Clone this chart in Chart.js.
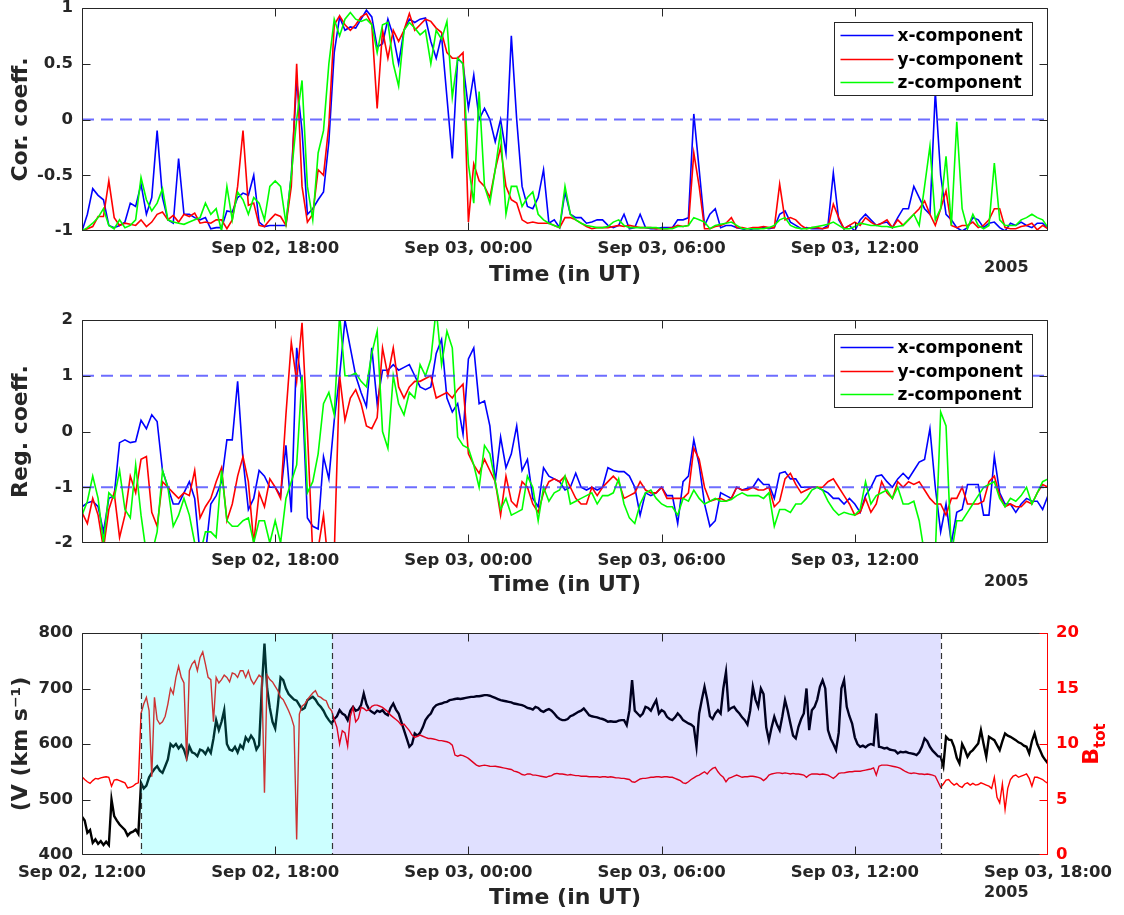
<!DOCTYPE html>
<html><head><meta charset="utf-8">
<script src="https://cdn.jsdelivr.net/npm/chart.js@4"></script>
<style>
html,body{margin:0;padding:0;background:#fff;width:1124px;height:915px;overflow:hidden;position:relative;}
canvas{position:absolute;left:0;}
</style></head><body>
<canvas id="c1" width="1124" height="317" style="top:-12px"></canvas>
<canvas id="c2" width="1124" height="310" style="top:300px"></canvas>
<canvas id="c3" width="1124" height="302" style="top:613px"></canvas>
<script>
// ---------- DATA ----------
const tickHours = [0, 6, 12, 18, 24, 30]; // hours after Sep 02, 12:00 UT
const tickLabels = ['Sep 02, 12:00','Sep 02, 18:00','Sep 03, 00:00','Sep 03, 06:00','Sep 03, 12:00','Sep 03, 18:00'];
const yearLabel = '2005';
const seriesNames = ['x-component','y-component','z-component'];
const coefStepMin = 10;

const corrX = [-1.0,-0.85,-0.62,-0.68,-0.72,-0.95,-0.97,-0.95,-0.92,-0.75,
-0.78,-0.58,-0.85,-0.7,-0.1,-0.7,-0.9,-0.93,-0.35,-0.85,
-0.85,-0.88,-0.9,-0.88,-0.98,-0.97,-0.97,-0.82,-0.83,-0.7,
-0.66,-0.68,-0.5,-0.92,-0.96,-0.95,-0.95,-0.95,-0.95,-0.5,
0.35,-0.1,-0.85,-0.8,-0.72,-0.65,-0.2,0.6,0.92,0.8,
0.83,0.82,0.9,0.98,0.92,0.65,0.68,0.9,0.75,0.5,
0.8,0.9,0.87,0.9,0.91,0.7,0.55,0.75,0.2,-0.35,
0.55,0.5,0.1,0.4,0.0,0.1,0.0,-0.2,0.0,-0.3,
0.75,0.0,-0.6,-0.78,-0.8,-0.7,-0.45,-0.93,-0.9,-0.97,
-0.65,-0.85,-0.88,-0.88,-0.93,-0.92,-0.9,-0.9,-0.95,-0.97,
-0.95,-0.85,-0.98,-0.97,-0.85,-0.97,-0.98,-0.98,-0.97,-0.97,
-0.97,-0.9,-0.9,-0.88,0.05,-0.45,-0.95,-0.85,-0.8,-0.97,
-0.95,-0.95,-0.97,-0.98,-1.0,-0.98,-0.98,-0.97,-0.98,-0.97,
-0.85,-0.82,-0.92,-0.95,-0.98,-0.97,-0.98,-0.98,-0.98,-0.95,
-0.48,-0.9,-0.98,-0.95,-1.0,-0.9,-0.85,-0.9,-0.95,-0.93,
-0.92,-0.97,-0.88,-0.8,-0.8,-0.6,-0.7,-0.8,-0.85,0.25,
-0.5,-0.85,-0.9,-0.97,-1.0,-0.97,-0.88,-0.9,-0.97,-0.93,
-0.92,-0.97,-1.0,-0.93,-0.95,-0.92,-0.95,-0.97,-0.93,-0.93,-0.98];

const corrY = [-1.0,-0.98,-0.96,-0.87,-0.87,-0.55,-0.88,-0.95,-0.93,-0.94,
-0.95,-0.9,-0.96,-0.92,-0.85,-0.83,-0.9,-0.86,-0.92,-0.85,
-0.87,-0.84,-0.93,-0.92,-0.93,-0.9,-0.9,-0.98,-0.9,-0.6,
-0.1,-0.77,-0.75,-0.95,-0.96,-0.9,-0.85,-0.87,-0.95,-0.6,
0.5,-0.6,-0.92,-0.85,-0.45,-0.5,-0.05,0.85,0.93,0.85,
0.8,0.85,0.92,0.95,0.85,0.1,0.8,0.55,0.8,0.7,
0.8,0.95,0.8,0.85,0.9,0.88,0.82,0.78,0.6,0.55,
0.55,0.6,-0.92,-0.4,-0.55,-0.6,-0.7,-0.45,-0.25,-0.6,
-0.72,-0.75,-0.9,-0.93,-0.92,-0.93,-0.93,-0.93,-0.95,-0.97,
-0.88,-0.88,-0.9,-0.93,-0.96,-0.98,-0.97,-0.97,-0.97,-0.96,
-0.95,-0.96,-0.95,-0.96,-0.97,-0.97,-0.97,-0.98,-0.98,-0.98,
-0.97,-0.95,-0.96,-0.95,-0.3,-0.6,-0.98,-0.98,-0.96,-0.95,
-0.93,-0.88,-0.97,-0.97,-0.98,-0.97,-0.97,-0.96,-0.97,-0.97,
-0.58,-0.9,-0.88,-0.9,-0.95,-0.98,-0.97,-0.97,-0.98,-0.97,
-0.76,-0.88,-0.98,-0.95,-0.92,-0.95,-0.88,-0.92,-0.95,-0.93,
-0.9,-0.97,-0.9,-0.95,-0.9,-0.85,-0.8,-0.73,-0.85,-0.95,
-0.8,-0.64,-0.95,-0.97,-0.95,-0.95,-0.92,-0.97,-0.95,-0.9,
-0.8,-0.8,-0.97,-0.98,-0.98,-0.96,-0.95,-0.93,-0.99,-0.95,-0.98];

const corrZ = [-1.0,-0.97,-0.93,-0.88,-0.8,-0.95,-0.98,-0.9,-0.97,-0.95,
-0.9,-0.52,-0.72,-0.82,-0.75,-0.62,-0.9,-0.92,-0.93,-0.94,
-0.92,-0.9,-0.88,-0.75,-0.85,-0.8,-1.0,-0.6,-0.9,-0.65,
-0.72,-0.85,-0.7,-0.75,-0.9,-0.6,-0.55,-0.6,-0.93,-0.5,
0.0,0.35,-0.6,-0.9,-0.3,-0.1,0.5,0.9,0.75,0.9,
0.96,0.9,0.88,0.9,0.85,0.6,0.85,0.87,0.5,0.3,
0.8,0.87,0.82,0.76,0.8,0.5,0.8,0.72,0.88,0.2,
0.55,0.5,-0.4,-0.75,0.25,-0.6,-0.75,-0.45,-0.1,-0.85,
-0.6,-0.6,-0.78,-0.7,-0.65,-0.85,-0.9,-0.93,-0.95,-0.97,
-0.6,-0.85,-0.9,-0.93,-0.95,-0.96,-0.97,-0.97,-0.96,-0.92,
-0.9,-0.95,-0.97,-0.97,-0.97,-0.97,-0.97,-0.97,-0.98,-0.98,
-0.98,-0.96,-0.96,-0.95,-0.88,-0.9,-0.92,-0.98,-0.95,-0.94,
-0.93,-0.92,-0.95,-0.98,-0.98,-0.98,-0.98,-0.98,-0.97,-0.95,
-0.9,-0.88,-0.95,-0.97,-0.98,-0.98,-0.97,-0.96,-0.95,-0.94,
-0.92,-0.95,-0.98,-0.98,-0.96,-0.93,-0.94,-0.95,-0.95,-0.96,
-0.96,-0.97,-0.96,-0.95,-0.9,-0.85,-0.95,-0.6,-0.24,-0.9,
-0.8,-0.33,-0.95,-0.02,-0.8,-0.98,-0.85,-0.95,-0.98,-0.95,
-0.39,-0.9,-0.95,-0.95,-0.95,-0.9,-0.88,-0.85,-0.88,-0.9,-0.97];

const regX = [-1.35,-1.28,-1.25,-1.35,-1.8,-1.2,-1.15,-0.2,-0.15,-0.2,
-0.18,0.2,0.05,0.3,0.18,-0.7,-1.0,-1.3,-1.3,-1.1,
-0.9,-1.2,-2.2,-2.2,-1.3,-1.15,-0.9,-0.15,-0.15,0.9,
-0.5,-1.4,-1.2,-0.7,-0.8,-1.0,-1.0,-1.15,-0.25,-1.45,
1.5,0.8,-1.55,-1.7,-1.75,-0.45,-0.85,0.2,1.0,2.0,
1.5,1.0,0.7,0.45,1.5,0.5,1.1,1.1,1.2,1.1,
1.15,1.2,1.0,0.8,0.75,0.8,1.4,1.65,0.6,0.35,
0.5,-0.05,1.3,1.5,0.5,0.55,0.1,-0.9,-0.1,-0.65,
-0.4,0.1,-0.7,-0.5,-1.2,-1.35,-0.65,-0.8,-0.85,-0.9,
-1.05,-1.0,-0.75,-1.0,-1.05,-1.0,-1.05,-1.0,-0.65,-0.7,
-0.72,-0.72,-0.8,-1.0,-1.5,-1.1,-1.15,-1.1,-1.0,-1.15,
-1.15,-1.65,-0.9,-0.8,-0.15,-0.6,-1.3,-1.7,-1.6,-1.1,
-1.15,-1.2,-1.0,-1.05,-1.02,-1.0,-0.85,-0.95,-0.95,-1.2,
-0.75,-0.72,-0.85,-0.85,-1.0,-1.0,-1.0,-1.0,-1.05,-1.1,
-1.2,-1.2,-1.3,-1.2,-1.3,-1.45,-1.15,-1.0,-0.8,-0.78,
-0.9,-1.0,-0.85,-0.75,-0.85,-0.7,-0.55,-0.5,0.05,-1.0,
-1.8,-1.3,-2.0,-1.45,-1.4,-0.95,-0.95,-0.95,-1.5,-1.5,
-0.45,-1.1,-1.3,-1.3,-1.45,-1.3,-1.2,-1.25,-1.25,-1.4,-1.15];

const regY = [-1.45,-1.65,-1.2,-1.5,-2.1,-1.4,-1.1,-1.9,-1.5,-0.8,
-1.1,-0.5,-0.45,-1.45,-1.7,-0.9,-1.0,-1.1,-1.2,-1.1,
-1.15,-0.7,-1.55,-1.35,-1.2,-0.9,-0.65,-1.6,-1.3,-0.8,
-0.45,-0.9,-2.0,-1.1,-1.35,-0.85,-1.0,-1.2,0.3,1.6,
0.9,1.95,0.0,-2.2,-2.1,-1.5,-2.5,-2.2,1.0,0.2,
0.6,0.75,0.5,0.1,0.05,0.25,1.5,1.0,1.5,0.8,
0.6,0.8,0.9,0.9,0.95,1.0,0.6,0.65,0.7,0.6,
0.75,0.85,-0.4,-0.6,-0.75,-0.5,-0.7,-0.9,-1.5,-0.8,
-1.25,-1.35,-0.9,-1.0,-1.3,-1.45,-1.1,-0.9,-0.85,-0.9,
-0.8,-1.0,-1.2,-1.3,-1.3,-1.0,-1.15,-1.0,-0.9,-0.8,
-0.9,-1.2,-1.15,-1.1,-0.9,-1.05,-1.1,-1.1,-1.0,-1.2,
-1.2,-1.2,-1.2,-1.1,-0.3,-0.5,-1.0,-1.25,-1.22,-1.2,
-1.25,-1.2,-1.0,-1.05,-1.05,-1.0,-1.05,-1.05,-1.0,-1.35,
-1.25,-0.85,-0.75,-0.95,-1.1,-1.05,-1.0,-1.0,-1.0,-0.9,
-0.85,-1.0,-1.15,-1.3,-1.5,-1.45,-1.2,-1.45,-1.3,-0.9,
-1.1,-1.2,-0.9,-1.0,-0.9,-0.95,-0.9,-1.05,-1.2,-1.3,
-1.3,-1.5,-1.2,-1.2,-1.0,-1.3,-1.3,-1.3,-1.25,-0.9,
-0.8,-1.15,-1.35,-1.3,-1.35,-1.35,-1.25,-1.3,-1.1,-0.95,-1.0];

const regZ = [-1.5,-1.25,-0.8,-1.2,-2.0,-1.1,-1.2,-0.7,-1.4,-1.55,
-0.6,-1.5,-2.2,-2.2,-1.8,-0.7,-1.0,-1.7,-1.5,-1.2,
-1.5,-2.0,-2.2,-1.8,-1.8,-1.9,-0.7,-1.6,-1.7,-1.7,
-1.6,-1.55,-2.0,-1.6,-1.6,-2.0,-1.6,-2.0,-1.2,-0.9,
-0.6,1.0,-1.1,-0.9,-0.4,0.5,0.7,0.3,2.1,1.0,
1.0,1.05,0.9,0.8,1.4,1.8,0.0,-0.3,1.0,0.5,
0.3,0.7,0.6,1.2,1.0,1.3,2.2,1.2,1.8,1.5,
-0.1,-0.25,-0.3,-0.6,-1.0,-0.25,-0.4,-0.9,-1.4,-1.2,
-1.5,-1.45,-1.4,-0.8,-1.0,-1.6,-1.0,-1.25,-1.1,-1.05,
-0.8,-1.3,-1.25,-1.2,-1.15,-1.1,-1.3,-1.15,-1.15,-1.1,
-0.85,-1.3,-1.55,-1.65,-1.3,-1.1,-1.05,-1.2,-1.3,-1.35,
-1.35,-1.5,-1.2,-1.25,-1.05,-1.2,-1.3,-1.25,-1.2,-1.25,
-1.25,-1.22,-1.15,-1.1,-1.15,-1.15,-1.15,-1.2,-1.1,-1.7,
-1.4,-1.4,-1.45,-1.3,-1.3,-1.2,-1.05,-1.0,-1.05,-1.25,
-1.4,-1.5,-1.45,-1.48,-1.5,-1.4,-0.9,-1.3,-1.15,-1.1,
-1.05,-1.2,-1.0,-1.3,-1.3,-1.25,-1.6,-2.2,-2.2,-2.2,
0.35,0.1,-2.2,-1.6,-1.6,-1.45,-1.3,-1.15,-1.0,-0.95,
-0.9,-1.2,-1.35,-1.2,-1.25,-1.15,-1.0,-1.3,-1.1,-0.9,-0.85];

const refCorr = [0];
const refReg = [1, -1];

const plasmaStepMin = 5;
const speedV = [469,462,440,445,422,428,420,425,418,424,
418,500,470,462,455,450,445,435,440,442,
446,438,530,520,525,540,548,555,560,552,
548,560,572,600,595,600,592,598,590,575,
596,585,583,578,590,588,582,592,584,610,
643,625,640,661,600,590,588,595,585,598,
592,612,605,615,608,590,598,700,781,700,
665,640,628,670,720,715,700,690,685,680,
678,670,662,665,679,682,685,680,672,667,
660,650,643,637,645,650,661,655,652,643,
660,667,660,662,670,691,672,662,658,655,
660,658,661,655,652,665,673,662,655,640,
625,610,595,600,619,615,620,630,643,650,
655,665,670,672,673,675,676,679,680,681,
682,681,682,683,684,685,685,686,686,687,
688,688,687,685,683,681,679,678,677,676,
675,673,672,671,670,668,665,664,662,667,
665,660,658,661,663,660,655,649,645,
643,643,645,650,652,655,658,660,664,658,
652,650,649,648,646,645,643,640,641,640,
640,642,643,643,634,660,715,660,655,650,
655,667,665,660,670,679,655,661,658,649,
645,643,648,655,650,643,640,637,635,631,
595,655,680,703,680,650,645,655,661,655,
700,730,661,665,667,660,655,648,643,635,
660,703,680,667,700,690,630,607,630,649,
635,625,650,679,660,637,615,610,631,645,
655,700,625,661,667,680,703,715,700,625,
610,600,589,620,700,715,667,650,637,612,
600,595,597,594,598,600,598,655,595,594,
592,593,590,589,588,583,586,585,586,584,
583,582,580,585,595,610,605,595,588,583,
578,577,560,613,608,607,595,575,565,600,
590,577,585,589,595,601,625,600,577,613,
610,607,598,589,605,619,615,613,610,607,
603,601,597,595,583,605,619,600,589,578,571,565];

const bTot = [7.05,6.8,6.6,6.45,6.7,6.9,6.85,6.95,7.0,7.05,
7.0,6.2,6.75,6.8,6.7,6.6,6.5,6.05,6.1,6.2,
6.4,6.5,12.75,13.6,14.2,13.0,7.05,14.2,12.2,11.8,
12.0,12.5,13.6,15.0,14.5,16.0,17.0,16.0,15.5,8.5,
16.6,17.2,17.5,16.6,17.8,18.3,17.2,16.0,15.8,12.0,
16.0,15.5,15.8,16.2,16.0,15.6,16.4,16.3,16.0,16.6,
16.6,16.0,16.6,15.8,15.4,15.8,16.2,16.0,5.6,16.2,
15.8,15.6,15.2,14.8,14.2,14.0,13.5,13.0,12.4,11.6,
1.4,12.7,13.4,13.6,14.0,14.3,14.6,14.8,14.3,14.2,
14.0,13.9,13.3,13.0,12.2,11.5,10.0,11.2,11.0,9.8,
12.5,13.3,12.0,12.3,13.3,13.2,13.0,13.1,13.4,13.5,
13.5,13.4,13.3,13.1,12.9,12.6,12.4,12.2,12.0,11.7,
11.8,11.5,11.2,10.8,10.6,10.7,10.8,10.7,10.6,10.5,
10.5,10.45,10.4,10.3,10.3,10.25,10.2,10.1,9.9,9.0,
8.9,9.0,8.95,8.85,8.7,8.5,8.3,8.1,8.0,8.05,
8.1,8.05,8.0,7.98,8.0,7.95,7.9,7.85,7.8,7.75,
7.7,7.55,7.5,7.4,7.25,7.2,7.3,7.3,7.2,7.2,
7.15,7.1,7.05,7.0,7.1,7.15,7.3,7.35,7.3,
7.3,7.25,7.2,7.25,7.2,7.15,7.15,7.1,7.1,7.1,
7.05,7.05,7.05,7.05,7.0,7.05,7.05,7.0,7.05,7.0,
6.95,6.95,6.9,6.9,6.85,6.8,6.6,6.55,6.7,6.85,
6.9,6.9,6.95,7.0,7.0,7.05,7.05,7.0,7.05,7.05,
7.0,7.0,6.9,6.8,6.7,6.5,6.45,6.6,6.8,6.95,
7.1,7.2,7.35,7.5,7.3,7.6,7.8,7.9,7.5,7.2,
7.0,6.6,6.9,7.0,7.1,7.2,7.1,7.0,7.05,7.05,
7.1,7.1,7.05,7.0,6.9,6.7,6.9,7.2,7.3,7.35,
7.4,7.4,7.35,7.4,7.35,7.3,7.35,7.3,7.3,7.25,
7.2,7.0,7.2,7.3,7.3,7.3,7.25,7.3,7.25,7.2,
7.05,6.9,7.1,7.35,7.4,7.4,7.45,7.5,7.5,7.55,
7.55,7.55,7.6,7.65,7.7,7.75,7.85,7.2,8.0,8.1,
8.1,8.1,8.05,8.0,7.95,7.9,7.8,7.65,7.5,7.4,
7.35,7.4,7.35,7.3,7.3,7.25,7.3,7.25,7.2,7.1,
6.6,6.1,6.4,6.75,6.8,6.5,6.3,6.45,6.2,6.1,
6.4,6.5,6.3,6.45,6.3,6.35,6.5,6.4,6.3,6.2,
6.0,7.0,5.2,4.7,6.4,4.1,6.0,6.8,7.1,7.2,
7.0,7.1,7.2,7.3,6.9,6.2,7.0,7.0,6.9,6.8,6.6,6.45];

const regionStartH = [1.82, 7.77];
const regionEndH = [7.77, 26.67];

// ---------- STYLE / HELPERS ----------
const INK = '#262626';
const FONT = "'DejaVu Sans', sans-serif";
const TICK_PX = 16.5;
Chart.defaults.font.family = FONT;
Chart.defaults.color = INK;

function toPoints(arr, stepMin) { return arr.map((v, i) => ({ x: i * stepMin / 60, y: v })); }

const framePlugin = {
  id: 'frame',
  afterDatasetsDraw(chart, args, opts) {
    if (!opts.regions) return;
    const { ctx, chartArea: a, scales } = chart;
    ctx.save();
    opts.regions.forEach(r => {
      const x1 = scales.x.getPixelForValue(r.start), x2 = scales.x.getPixelForValue(r.end);
      ctx.fillStyle = r.color;
      ctx.fillRect(x1, a.top, x2 - x1, a.bottom - a.top);
    });
    ctx.strokeStyle = '#333'; ctx.lineWidth = 1.2; ctx.setLineDash([6, 4]);
    opts.boundaries.forEach(h => {
      const x = Math.round(scales.x.getPixelForValue(h)) + 0.5;
      ctx.beginPath(); ctx.moveTo(x, a.top); ctx.lineTo(x, a.bottom); ctx.stroke();
    });
    ctx.restore();
  },
  afterDraw(chart, args, opts) {
    const { ctx, chartArea: a, scales } = chart;
    const L = Math.round(a.left) + 0.5, R = Math.round(a.right) - 0.5;
    const T = Math.round(a.top) + 0.5, B = Math.round(a.bottom) - 0.5;
    const tl = 8;
    ctx.save();
    ctx.lineWidth = 1; ctx.strokeStyle = INK; ctx.setLineDash([]);
    ctx.beginPath();
    scales.x.ticks.forEach(t => {
      const x = Math.min(R, Math.max(L, Math.round(scales.x.getPixelForValue(t.value)) + 0.5));
      ctx.moveTo(x, T); ctx.lineTo(x, T + tl); ctx.moveTo(x, B); ctx.lineTo(x, B - tl);
    });
    scales.y.ticks.forEach(t => {
      const y = Math.min(B, Math.max(T, Math.round(scales.y.getPixelForValue(t.value)) + 0.5));
      ctx.moveTo(L, y); ctx.lineTo(L + tl, y);
      if (!scales.y2) { ctx.moveTo(R, y); ctx.lineTo(R - tl, y); }
    });
    ctx.moveTo(R, T); ctx.lineTo(L, T); ctx.lineTo(L, B); ctx.lineTo(R, B);
    if (!scales.y2) ctx.lineTo(R, T);
    ctx.stroke();
    if (scales.y2) {
      ctx.strokeStyle = '#ff0000';
      ctx.beginPath();
      ctx.moveTo(R, T); ctx.lineTo(R, B);
      scales.y2.ticks.forEach(t => {
        const y = Math.min(B, Math.max(T, Math.round(scales.y2.getPixelForValue(t.value)) + 0.5));
        ctx.moveTo(R, y); ctx.lineTo(R - tl, y);
      });
      ctx.stroke();
      // right axis title B_tot
      ctx.fillStyle = '#ff0000';
      ctx.translate(R + 50, (a.top + a.bottom) / 2);
      ctx.rotate(-Math.PI / 2);
      ctx.textBaseline = 'alphabetic'; ctx.textAlign = 'left';
      ctx.font = 'bold 22px ' + FONT;
      const wB = ctx.measureText('B').width;
      ctx.font = 'bold 15px ' + FONT;
      const wS = ctx.measureText('tot').width;
      const x0 = -(wB + wS) / 2;
      ctx.font = 'bold 22px ' + FONT;
      ctx.fillText('B', x0, 0);
      ctx.font = 'bold 15px ' + FONT;
      ctx.fillText('tot', x0 + wB, 7);
      ctx.setTransform(1, 0, 0, 1, 0, 0);
    }
    // legend
    if (opts.legend) {
      const items = chart.data.datasets.filter(d => d.label);
      const w = 198, h = 73;
      const bx = Math.round(a.right - 16 - w) + 0.5, by = Math.round(a.top + 14) + 0.5;
      ctx.fillStyle = '#fff'; ctx.fillRect(bx, by, w, h);
      ctx.strokeStyle = INK; ctx.lineWidth = 1; ctx.strokeRect(bx, by, w, h);
      const rows = [13, 37, 60];
      items.forEach((d, i) => {
        const y = by + rows[i];
        ctx.strokeStyle = d.borderColor; ctx.lineWidth = 1.5;
        ctx.beginPath(); ctx.moveTo(bx + 6, y); ctx.lineTo(bx + 59, y); ctx.stroke();
        ctx.fillStyle = '#000'; ctx.font = 'bold 17px ' + FONT;
        ctx.textBaseline = 'middle'; ctx.textAlign = 'left';
        ctx.fillText(d.label, bx + 63, y + 1);
      });
    }
    // year label
    ctx.fillStyle = INK; ctx.font = 'bold 16px ' + FONT;
    ctx.textBaseline = 'middle'; ctx.textAlign = 'left';
    ctx.fillText(yearLabel, a.right - 64, a.bottom + (opts.yearDy || 38));
    ctx.restore();
  }
};

function xScale(axisHeight, titlePadBottom, showEnds) {
  return {
    type: 'linear', min: tickHours[0], max: tickHours[tickHours.length - 1],
    afterBuildTicks: s => { s.ticks = tickHours.map(v => ({ value: v })); },
    afterFit: s => { s.height = axisHeight; },
    grid: { display: false, drawTicks: false }, border: { display: false },
    ticks: {
      autoSkip: false, maxRotation: 0, padding: 8, color: INK,
      font: { size: TICK_PX, weight: 'bold' },
      callback: (v) => {
        const k = tickHours.indexOf(v);
        if (!showEnds && (k === 0 || k === tickHours.length - 1)) return '';
        return tickLabels[k];
      }
    },
    title: { display: true, text: 'Time (in UT)', color: INK, font: { size: 22, weight: 'bold' }, padding: { top: 0, bottom: titlePadBottom } }
  };
}

function yScale(min, max, step, title, color) {
  return {
    min, max,
    afterBuildTicks: s => { const t = []; for (let v = min; v <= max + 1e-9; v += step) t.push({ value: +v.toFixed(6) }); s.ticks = t; },
    afterFit: s => { s.width = 82; },
    grid: { display: false, drawTicks: false }, border: { display: false },
    ticks: { padding: 9, color: color || INK, font: { size: TICK_PX, weight: 'bold' }, callback: v => String(v) },
    title: { display: true, text: title, color: INK, font: { size: 22, weight: 'bold' }, padding: { top: 8, bottom: 0 } }
  };
}

function coefChart(id, series, refs, yMin, yMax, step, yTitle, axisH, titlePB, yearDy) {
  const colors = ['#0000ff', '#ff0000', '#00ff00'];
  const datasets = [];
  refs.forEach(r => datasets.push({
    data: [{ x: tickHours[0], y: r }, { x: tickHours[tickHours.length - 1], y: r }],
    borderColor: 'rgba(60,60,255,0.75)', borderWidth: 2, borderDash: [12, 7], pointRadius: 0, order: 0
  }));
  series.forEach((s, i) => datasets.push({
    label: seriesNames[i], data: toPoints(s, coefStepMin),
    borderColor: colors[i], borderWidth: 1.6, pointRadius: 0, tension: 0, order: 3 - i
  }));
  return new Chart(document.getElementById(id), {
    type: 'line',
    data: { datasets },
    options: {
      responsive: false, animation: false, devicePixelRatio: 1,
      layout: { padding: { top: 20, right: 76, left: 0, bottom: 0 } },
      plugins: { legend: { display: false }, tooltip: { enabled: false }, frame: { legend: true, yearDy } },
      scales: { x: xScale(axisH, titlePB, false), y: yScale(yMin, yMax, step, yTitle) }
    },
    plugins: [framePlugin]
  });
}

coefChart('c1', [corrX, corrY, corrZ], refCorr, -1, 1, 0.5, 'Cor. coeff.', 74, 16.8, 37);
coefChart('c2', [regX, regY, regZ], refReg, -2, 2, 1, 'Reg. coeff.', 67, 11.8, 39);

const ys3 = yScale(400, 800, 100, '(V (km s⁻¹)');
const y2 = {
  position: 'right', min: 0, max: 20,
  afterBuildTicks: s => { s.ticks = [0, 5, 10, 15, 20].map(v => ({ value: v })); },
  afterFit: s => { s.width = 76; },
  grid: { display: false, drawTicks: false }, border: { display: false },
  ticks: { padding: 8, color: '#ff0000', font: { size: TICK_PX, weight: 'bold' }, callback: v => String(v) },
  title: { display: false }
};
new Chart(document.getElementById('c3'), {
  type: 'line',
  data: {
    datasets: [
      { data: toPoints(bTot, plasmaStepMin), yAxisID: 'y2', borderColor: '#ff0000', borderWidth: 1.4, pointRadius: 0, tension: 0, order: 0 },
      { data: toPoints(speedV, plasmaStepMin), yAxisID: 'y', borderColor: '#000000', borderWidth: 2.4, pointRadius: 0, tension: 0, order: 1 }
    ]
  },
  options: {
    responsive: false, animation: false, devicePixelRatio: 1,
    layout: { padding: { top: 20, right: 0, left: 0, bottom: 0 } },
    plugins: {
      legend: { display: false }, tooltip: { enabled: false },
      frame: {
        legend: false, yearDy: 38,
        regions: [
          { start: regionStartH[0], end: regionEndH[0], color: 'rgba(0,255,255,0.2)' },
          { start: regionStartH[1], end: regionEndH[1], color: 'rgba(0,0,255,0.12)' }
        ],
        boundaries: [regionStartH[0], regionStartH[1], regionEndH[1]]
      }
    },
    scales: { x: xScale(60, 3.8, true), y: ys3, y2 }
  },
  plugins: [framePlugin]
});
</script>
</body></html>
